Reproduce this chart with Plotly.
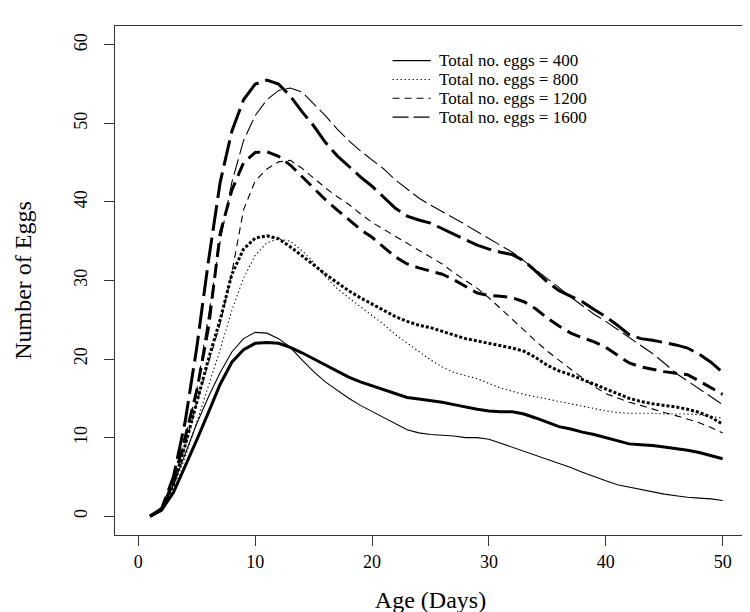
import plotly.graph_objects as go

# ---------------- data ----------------
days = list(range(1, 51))

legend_labels = ["Total no. eggs = 400", "Total no. eggs = 800",
                 "Total no. eggs = 1200", "Total no. eggs = 1600"]

eggs400_thin = [0, 0.8, 4.0, 8.0, 11.8, 15.2, 18.3, 20.9, 22.6, 23.4,
                23.3, 22.6, 21.5, 19.9, 18.4, 17.1, 16.0, 15.0, 14.1, 13.3,
                12.5, 11.7, 11.0, 10.6, 10.4, 10.3, 10.2, 10.0, 10.0, 9.8,
                9.3, 8.8, 8.3, 7.8, 7.3, 6.8, 6.2, 5.6, 5.0, 4.5,
                4.0, 3.7, 3.4, 3.1, 2.8, 2.6, 2.4, 2.3, 2.2, 2.0]
eggs400_thick = [0, 0.8, 3.0, 6.3, 9.7, 13.2, 16.8, 19.6, 21.2, 22.0,
                 22.1, 22.0, 21.5, 20.8, 20.0, 19.2, 18.4, 17.7, 17.1, 16.6,
                 16.1, 15.6, 15.1, 14.9, 14.7, 14.5, 14.2, 13.9, 13.6, 13.4,
                 13.3, 13.3, 13.0, 12.5, 11.9, 11.4, 11.1, 10.7, 10.4, 10.0,
                 9.6, 9.2, 9.1, 9.0, 8.8, 8.6, 8.4, 8.1, 7.7, 7.3]
eggs800_thin = [0, 0.8, 3.5, 7.5, 12.0, 16.5, 21.2, 26.2, 30.3, 33.2,
                34.8, 35.3, 35.0, 33.8, 32.3, 30.5, 29.0, 27.8, 26.7, 25.6,
                24.4, 23.1, 22.0, 20.9, 19.9, 19.0, 18.3, 17.9, 17.5, 16.9,
                16.3, 15.9, 15.5, 15.2, 14.9, 14.6, 14.3, 14.0, 13.7, 13.4,
                13.2, 13.1, 13.1, 13.1, 13.0, 13.0, 13.0, 12.9, 12.7, 12.5]
eggs800_thick = [0, 0.8, 4.0, 9.0, 14.5, 20.0, 25.0, 30.8, 34.0, 35.4,
                 35.7, 35.3, 34.3, 33.2, 32.0, 30.8, 29.7, 28.7, 27.8, 27.0,
                 26.1, 25.4, 24.8, 24.3, 24.0, 23.5, 23.0, 22.6, 22.3, 22.0,
                 21.7, 21.4, 21.0, 20.2, 19.2, 18.5, 18.0, 17.4, 16.8, 16.2,
                 15.6, 15.0, 14.6, 14.3, 14.1, 13.9, 13.6, 13.2, 12.6, 11.7]
eggs1200_thin = [0, 0.8, 4.0, 9.0, 14.5, 19.5, 24.5, 31.0, 39.0, 42.7,
                 44.2, 45.1, 45.3, 44.3, 43.0, 41.8, 40.7, 39.7, 38.5, 37.4,
                 36.5, 35.6, 34.8, 33.8, 33.0, 32.1, 31.0, 30.0, 29.0, 27.8,
                 26.4, 25.0, 23.6, 22.3, 21.0, 19.8, 18.7, 17.6, 16.5, 15.6,
                 15.0, 14.5, 14.1, 13.6, 13.2, 12.8, 12.4, 11.9, 11.3, 10.6]
eggs1200_thick = [0, 0.8, 4.5, 10.0, 16.0, 24.0, 36.0, 41.5, 45.0, 46.3,
                  46.4, 45.8, 44.7, 43.2, 41.7, 40.3, 39.0, 37.7, 36.5, 35.5,
                  34.3, 33.0, 32.1, 31.6, 31.2, 30.8, 30.1, 29.3, 28.4, 28.1,
                  28.0, 27.8, 27.3, 26.4, 25.2, 24.2, 23.3, 22.7, 22.2, 21.5,
                  20.5, 19.5, 19.0, 18.7, 18.4, 18.2, 18.0, 17.2, 16.3, 15.5]
eggs1600_thin = [0, 0.8, 4.5, 10.0, 16.0, 25.5, 35.0, 42.5, 47.8, 51.0,
                 53.0, 54.2, 54.5, 54.0, 52.5, 51.0, 49.3, 47.8, 46.5, 45.4,
                 44.2, 42.8, 41.6, 40.5, 39.6, 38.8, 38.0, 37.1, 36.2, 35.3,
                 34.5, 33.6, 32.5, 31.4, 30.3, 29.1, 27.9, 26.8, 25.7, 24.8,
                 23.8, 22.8, 21.8, 20.7, 19.5, 18.2, 17.2, 16.2, 15.2, 14.2]
eggs1600_thick = [0, 1.0, 5.0, 12.0, 21.5, 32.5, 42.5, 49.0, 53.0, 55.0,
                  55.5, 55.0, 53.5, 51.5, 49.7, 47.6, 45.9, 44.5, 43.2, 42.0,
                  40.6, 39.2, 38.2, 37.7, 37.3, 36.6, 35.9, 35.3, 34.5, 34.0,
                  33.6, 33.3, 32.5, 31.2, 29.8, 28.7, 28.0, 27.3, 26.3, 25.4,
                  24.3, 23.1, 22.6, 22.4, 22.1, 21.8, 21.4, 20.6, 19.6, 18.3]

x_ticks = [0, 10, 20, 30, 40, 50]
y_ticks = [0, 10, 20, 30, 40, 50, 60]

# ---------------- styles ----------------
FONT = "Liberation Serif"
INK = "#000000"
thin_w, thick_w = 1.1, 3.0
styles = [
    dict(thin="solid", thick="solid"),
    dict(thin="1.3px,2.7px", thick="3px,2px"),
    dict(thin="7px,5px", thick="14px,7px"),
    dict(thin="16px,5px", thick="26px,7px"),
]
thin_series = [eggs400_thin, eggs800_thin, eggs1200_thin, eggs1600_thin]
thick_series = [eggs400_thick, eggs800_thick, eggs1200_thick, eggs1600_thick]

fig = go.Figure()
for lab, st, thin, thick in zip(legend_labels, styles, thin_series, thick_series):
    fig.add_trace(go.Scatter(x=days, y=thin, mode="lines", name=lab,
                             line=dict(color=INK, width=thin_w, dash=st["thin"]),
                             showlegend=False))
    fig.add_trace(go.Scatter(x=days, y=thick, mode="lines", name=lab + " (fit)",
                             line=dict(color=INK, width=thick_w, dash=st["thick"]),
                             showlegend=False))

# custom compact legend (R-style)
leg_x0, leg_x1, leg_tx = 0.4399, 0.5005, 0.512
leg_y = [0.932, 0.895, 0.858, 0.821]
for lab, st, yy in zip(legend_labels, styles, leg_y):
    fig.add_shape(type="line", xref="paper", yref="paper",
                  x0=leg_x0, x1=leg_x1, y0=yy, y1=yy,
                  line=dict(color=INK, width=thin_w, dash=st["thin"]))
    fig.add_annotation(xref="paper", yref="paper", x=leg_tx, y=yy,
                       text=lab, showarrow=False, xanchor="left", yanchor="middle",
                       borderpad=0,
                       font=dict(family=FONT, size=17, color=INK))

axis_common = dict(
    showline=True, linecolor="#333", linewidth=1.3, mirror=True,
    ticks="outside", ticklen=10, tickwidth=1.3, tickcolor="#333",
    showgrid=False, zeroline=False,
    tickfont=dict(family=FONT, size=18, color=INK),
)
fig.update_layout(
    width=750, height=612,
    margin=dict(l=107, r=11, t=18, b=80),
    paper_bgcolor="white", plot_bgcolor="white",
    xaxis=dict(range=[-2, 52], tickvals=x_ticks,
               title=dict(text="Age (Days)", font=dict(family=FONT, size=24, color=INK),
                          standoff=20),
               **axis_common),
    yaxis=dict(range=[-2.4, 62.4], tickvals=y_ticks, tickangle=-90,
               ticklabelstandoff=10,
               title=dict(text="Number of Eggs", font=dict(family=FONT, size=24, color=INK),
                          standoff=32),
               **axis_common),
)

fig.write_html("out.html")
